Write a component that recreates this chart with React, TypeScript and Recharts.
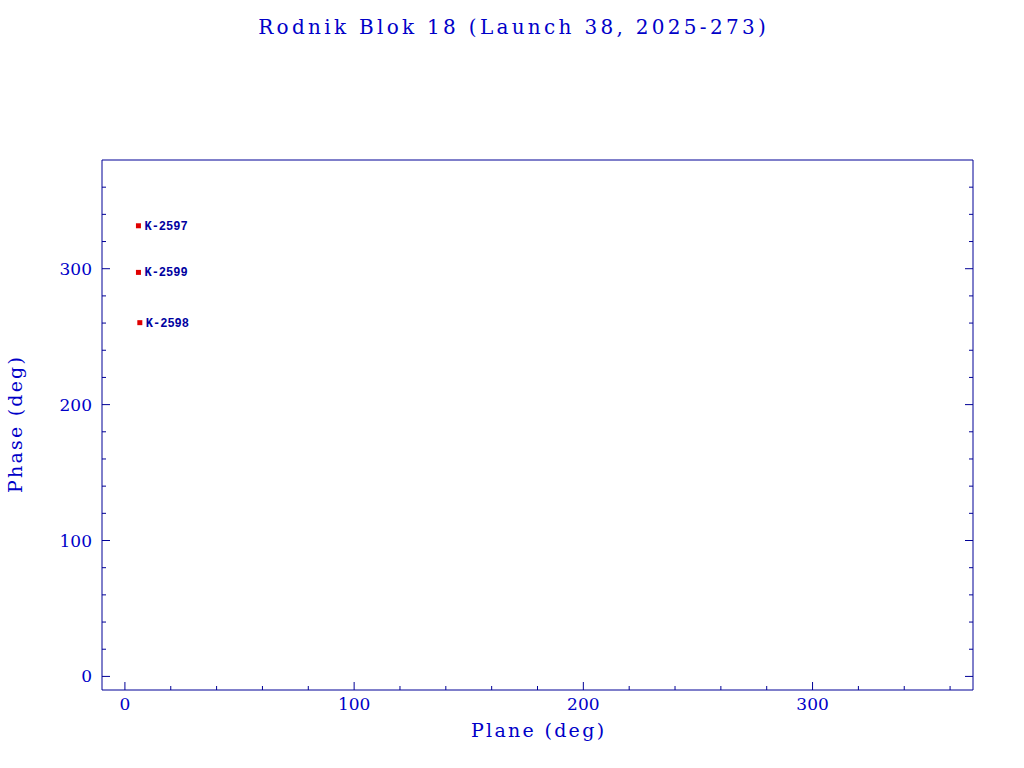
import * as React from "react"
import { ScatterChart, Scatter, XAxis, YAxis } from "recharts"

const objectNames = ["K-2597", "K-2599", "K-2598"]
const planeDeg = [5.9, 5.9, 6.5]
const phaseDeg = [331.6, 297.3, 260.3]

const xTicks = [0, 20, 40, 60, 80, 100, 120, 140, 160, 180, 200, 220, 240, 260, 280, 300, 320, 340, 360]
const yTicks = [0, 20, 40, 60, 80, 100, 120, 140, 160, 180, 200, 220, 240, 260, 280, 300, 320, 340, 360]

const points = objectNames.map((name, i) => ({ name, plane: planeDeg[i], phase: phaseDeg[i] }))

const AXIS = "#000096"
const TEXT = "#0000c8"
const SERIF = "'DejaVu Serif', 'Liberation Serif', serif"
const MONO = "'Liberation Mono', 'DejaVu Sans Mono', monospace"

const isMajor = (v: number) => v % 100 === 0

function BottomTick({ x, y, payload }: any) {
  const len = isMajor(payload.value) ? 8 : 4
  return (
    <g>
      <line x1={x} x2={x} y1={y} y2={y - len} stroke={AXIS} strokeWidth={1} />
      {isMajor(payload.value) && (
        <text x={x} y={y + 20} textAnchor="middle" fill={TEXT} fontFamily={SERIF} fontSize={17}>
          {payload.value}
        </text>
      )}
    </g>
  )
}

function TopTick({ x, y, payload }: any) {
  const len = isMajor(payload.value) ? 8 : 4
  return <line x1={x} x2={x} y1={y} y2={y + len} stroke={AXIS} strokeWidth={1} />
}

function LeftTick({ x, y, payload }: any) {
  const len = isMajor(payload.value) ? 8 : 4
  return (
    <g>
      <line x1={x} x2={x + len} y1={y} y2={y} stroke={AXIS} strokeWidth={1} />
      {isMajor(payload.value) && (
        <text x={x - 10} y={y + 6} textAnchor="end" fill={TEXT} fontFamily={SERIF} fontSize={17}>
          {payload.value}
        </text>
      )}
    </g>
  )
}

function RightTick({ x, y, payload }: any) {
  const len = isMajor(payload.value) ? 8 : 4
  return <line x1={x} x2={x - len} y1={y} y2={y} stroke={AXIS} strokeWidth={1} />
}

function PointShape({ cx, cy, payload }: any) {
  return (
    <g>
      <rect x={cx - 2.5} y={cy - 2.5} width={5} height={5} fill="#e00000" />
      <text x={cx + 6} y={cy + 4} fill="#0000a0" fontFamily={MONO} fontSize={12} fontWeight="bold">
        {payload.name}
      </text>
    </g>
  )
}

export default function App() {
  return (
    <div style={{ position: "absolute", left: 0, top: 0, width: 1024, height: 768, background: "#fff" }}>
      <div
        style={{
          position: "absolute",
          left: 0,
          width: 1024,
          top: 15,
          textAlign: "center",
          color: TEXT,
          fontFamily: SERIF,
          fontSize: 20,
          letterSpacing: 3.3,
          paddingLeft: 3.3,
          boxSizing: "border-box",
        }}
      >
        Rodnik Blok 18 (Launch 38, 2025-273)
      </div>
      <ScatterChart width={1024} height={768} margin={{ top: 150, right: 41, bottom: 48, left: 42 }}>
        <XAxis
          xAxisId="b"
          type="number"
          dataKey="plane"
          domain={[-10, 370]}
          ticks={xTicks}
          interval={0}
          orientation="bottom"
          height={30}
          tickSize={0}
          tickMargin={0}
          tickLine={false}
          axisLine={{ stroke: AXIS }}
          tick={<BottomTick />}
          allowDataOverflow
        />
        <XAxis
          xAxisId="t"
          type="number"
          domain={[-10, 370]}
          ticks={xTicks}
          interval={0}
          orientation="top"
          height={10}
          tickSize={0}
          tickMargin={0}
          tickLine={false}
          axisLine={{ stroke: AXIS }}
          tick={<TopTick />}
          allowDataOverflow
        />
        <YAxis
          yAxisId="l"
          type="number"
          dataKey="phase"
          domain={[-10, 380]}
          ticks={yTicks}
          interval={0}
          orientation="left"
          width={60}
          tickSize={0}
          tickMargin={0}
          tickLine={false}
          axisLine={{ stroke: AXIS }}
          tick={<LeftTick />}
          allowDataOverflow
        />
        <YAxis
          yAxisId="r"
          type="number"
          domain={[-10, 380]}
          ticks={yTicks}
          interval={0}
          orientation="right"
          width={10}
          tickSize={0}
          tickMargin={0}
          tickLine={false}
          axisLine={{ stroke: AXIS }}
          tick={<RightTick />}
          allowDataOverflow
        />
        <Scatter
          data={points}
          xAxisId="b"
          yAxisId="l"
          shape={<PointShape />}
          isAnimationActive={false}
        />
      </ScatterChart>
      <div
        style={{
          position: "absolute",
          left: 102,
          width: 871,
          top: 719,
          textAlign: "center",
          color: TEXT,
          fontFamily: SERIF,
          fontSize: 19,
          letterSpacing: 2.3,
          paddingLeft: 2.3,
          boxSizing: "border-box",
        }}
      >
        Plane (deg)
      </div>
      <div
        style={{
          position: "absolute",
          left: 15,
          top: 425,
          transform: "translate(-50%, -50%) rotate(-90deg)",
          whiteSpace: "nowrap",
          color: TEXT,
          fontFamily: SERIF,
          fontSize: 19,
          letterSpacing: 2.2,
          paddingLeft: 2.2,
        }}
      >
        Phase (deg)
      </div>
    </div>
  )
}
